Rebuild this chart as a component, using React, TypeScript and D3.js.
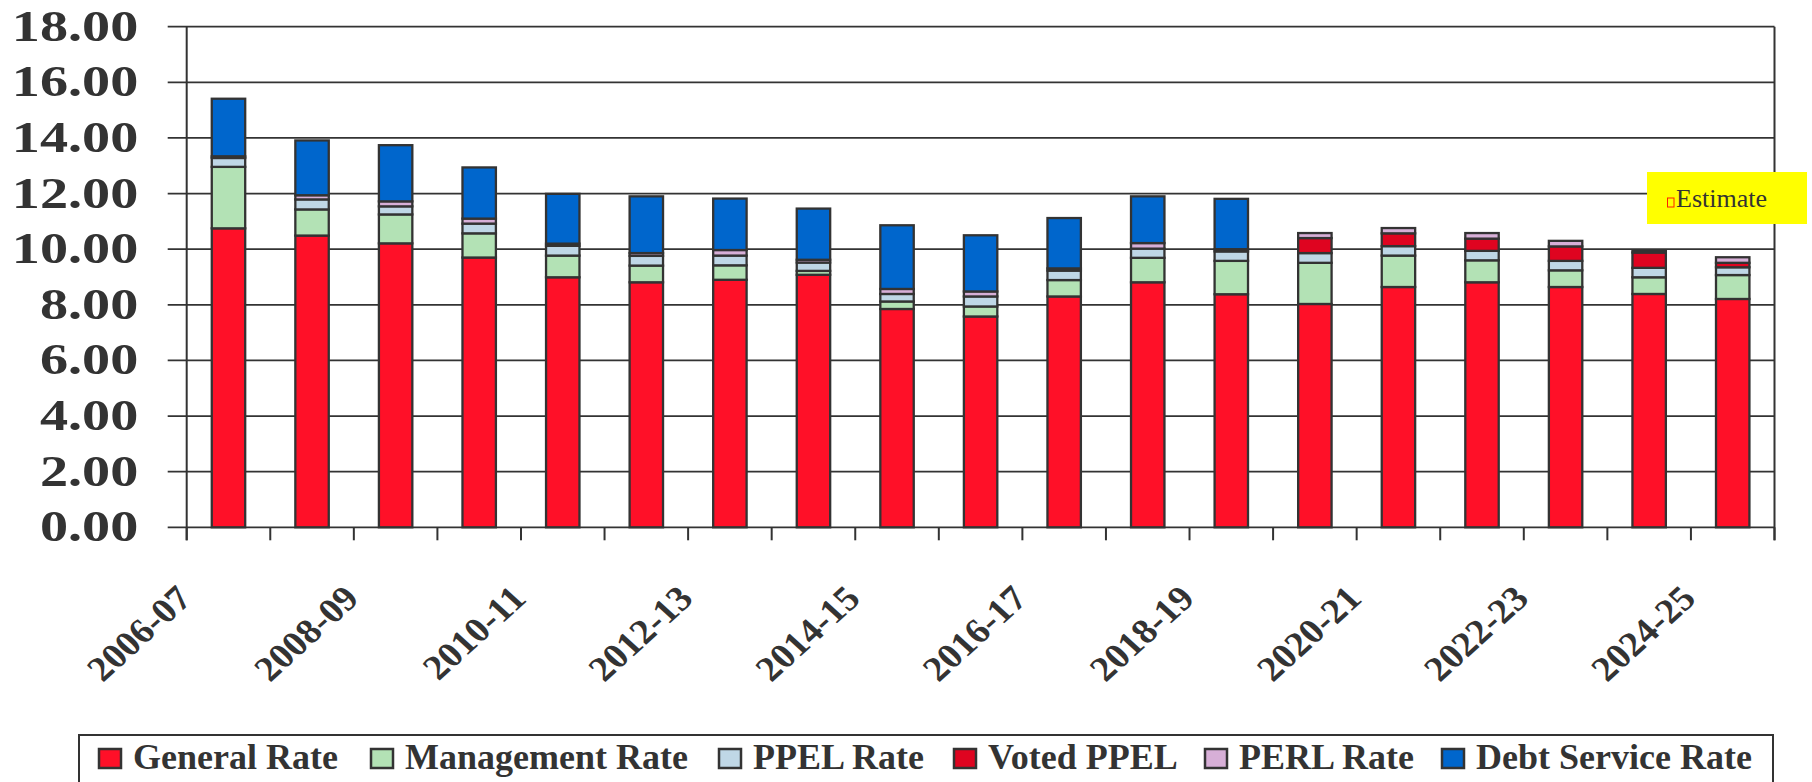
import React from 'react';
import * as d3 from 'd3';

// fiscal years on the x axis
const categories = [
  '2006-07', '2007-08', '2008-09', '2009-10', '2010-11', '2011-12', '2012-13',
  '2013-14', '2014-15', '2015-16', '2016-17', '2017-18', '2018-19', '2019-20',
  '2020-21', '2021-22', '2022-23', '2023-24', '2024-25',
];

// series values (rate per $1,000)
const generalRate = [10.75, 10.49, 10.21, 9.70, 8.99, 8.81, 8.90, 9.08, 7.85, 7.58, 8.30, 8.81, 8.38, 8.03, 8.64, 8.81, 8.64, 8.39, 8.21];
const managementRate = [2.21, 0.94, 1.04, 0.87, 0.78, 0.60, 0.52, 0.14, 0.27, 0.36, 0.59, 0.88, 1.20, 1.48, 1.13, 0.79, 0.60, 0.60, 0.86];
const ppelRate = [0.32, 0.36, 0.29, 0.35, 0.35, 0.35, 0.35, 0.30, 0.27, 0.36, 0.34, 0.33, 0.34, 0.35, 0.34, 0.34, 0.34, 0.34, 0.28];
const votedPpel = [0, 0, 0, 0, 0, 0, 0, 0, 0, 0, 0, 0, 0, 0.54, 0.46, 0.44, 0.52, 0.55, 0.16];
const perlRate = [0.06, 0.15, 0.18, 0.18, 0.08, 0.10, 0.20, 0.10, 0.18, 0.18, 0.08, 0.20, 0.08, 0.18, 0.19, 0.20, 0.20, 0.06, 0.20];
const debtServiceRate = [2.07, 1.97, 2.02, 1.84, 1.79, 2.04, 1.85, 1.84, 2.29, 2.02, 1.81, 1.68, 1.81, 0, 0, 0, 0, 0, 0];

const seriesNames = ['General Rate', 'Management Rate', 'PPEL Rate', 'Voted PPEL', 'PERL Rate', 'Debt Service Rate'];
const seriesValues = [generalRate, managementRate, ppelRate, votedPpel, perlRate, debtServiceRate];
const seriesColors = ['#FF1028', '#B3E2B5', '#BFD7E6', '#DF0420', '#D7AFD7', '#0066CC'];

const yTicks = [0, 2, 4, 6, 8, 10, 12, 14, 16, 18];

// legend layout (x of each swatch)
const legendX = [99, 371, 719, 954, 1205, 1442];

const W = 1812;
const H = 782;
const ink = '#333333';
const font = '"Liberation Serif", "Times New Roman", serif';

export default function App() {
  const left = 186.7;
  const right = 1774.5;
  const top = 26.7;
  const bottom = 527.3;

  const x = d3.scaleBand<string>()
    .domain(categories)
    .range([left, right])
    .paddingInner(0.6)
    .paddingOuter(0.3);

  const y = d3.scaleLinear().domain([0, 18]).range([bottom, top]);

  const rows = categories.map((c, i) => {
    const r: any = { cat: c };
    seriesNames.forEach((s, k) => { r[s] = seriesValues[k][i]; });
    return r;
  });
  const stacked = d3.stack<any>().keys(seriesNames)(rows);

  const step = x.step();
  const boundaries = d3.range(categories.length + 1).map(i => left + i * step);

  return (
    <svg width={W} height={H} style={{ position: 'absolute', left: 0, top: 0, background: '#fff' }}>
      {/* gridlines with outward ticks */}
      {yTicks.map(t => (
        <line key={'g' + t} x1={left - 19} x2={right} y1={y(t)} y2={y(t)} stroke={ink} strokeWidth={1.8} />
      ))}
      {/* y labels */}
      {yTicks.map(t => (
        <text key={'yl' + t} transform={`translate(138.3, ${y(t) + 14}) scale(1.25,1)`}
          textAnchor="end" fontFamily={font} fontWeight="bold" fontSize={45} fill={ink}>
          {t.toFixed(2)}
        </text>
      ))}
      {/* axis & border */}
      <line x1={left} x2={left} y1={top} y2={bottom + 13} stroke={ink} strokeWidth={2} />
      <line x1={right} x2={right} y1={top} y2={bottom + 13} stroke={ink} strokeWidth={2} />
      {boundaries.map((bx, i) => (
        <line key={'t' + i} x1={bx} x2={bx} y1={bottom} y2={bottom + 13} stroke={ink} strokeWidth={2} />
      ))}

      {/* stacked bars */}
      {stacked.map((layer, k) => (
        <g key={layer.key} fill={seriesColors[k]} stroke={ink} strokeWidth={2.3}>
          {layer.map((d, i) => (d[1] - d[0] > 0 ? (
            <rect key={i} x={x(categories[i])} width={x.bandwidth()}
              y={y(d[1])} height={y(d[0]) - y(d[1])} />
          ) : null))}
        </g>
      ))}

      {/* x labels, every other year */}
      {categories.map((c, i) => (i % 2 === 0 ? (
        <text key={'xl' + c}
          transform={`translate(${(x(c) as number) + x.bandwidth() / 2 - 35}, 600.5) scale(1.1,1) rotate(-45)`}
          textAnchor="end" fontFamily={font} fontWeight="bold" fontSize={35} fill={ink}>
          {c}
        </text>
      ) : null))}

      {/* estimate note */}
      <rect x={1647} y={172} width={160} height={52} fill="#FFFF00" />
      <rect x={1667.5} y={198} width={6.5} height={9} fill="none" stroke="#FF2000" strokeWidth={1} />
      <text x={1676} y={206.7} fontFamily={font} fontSize={26} fill={ink}>Estimate</text>

      {/* legend */}
      <rect x={79} y={735} width={1694} height={70} fill="none" stroke={ink} strokeWidth={2} />
      {seriesNames.map((s, k) => (
        <g key={'lg' + s}>
          <rect x={legendX[k]} y={749} width={22} height={19} fill={seriesColors[k]} stroke={ink} strokeWidth={2.5} />
          <text x={legendX[k] + 34} y={768.5} fontFamily={font} fontWeight="bold" fontSize={36} fill={ink}>{s}</text>
        </g>
      ))}
    </svg>
  );
}
